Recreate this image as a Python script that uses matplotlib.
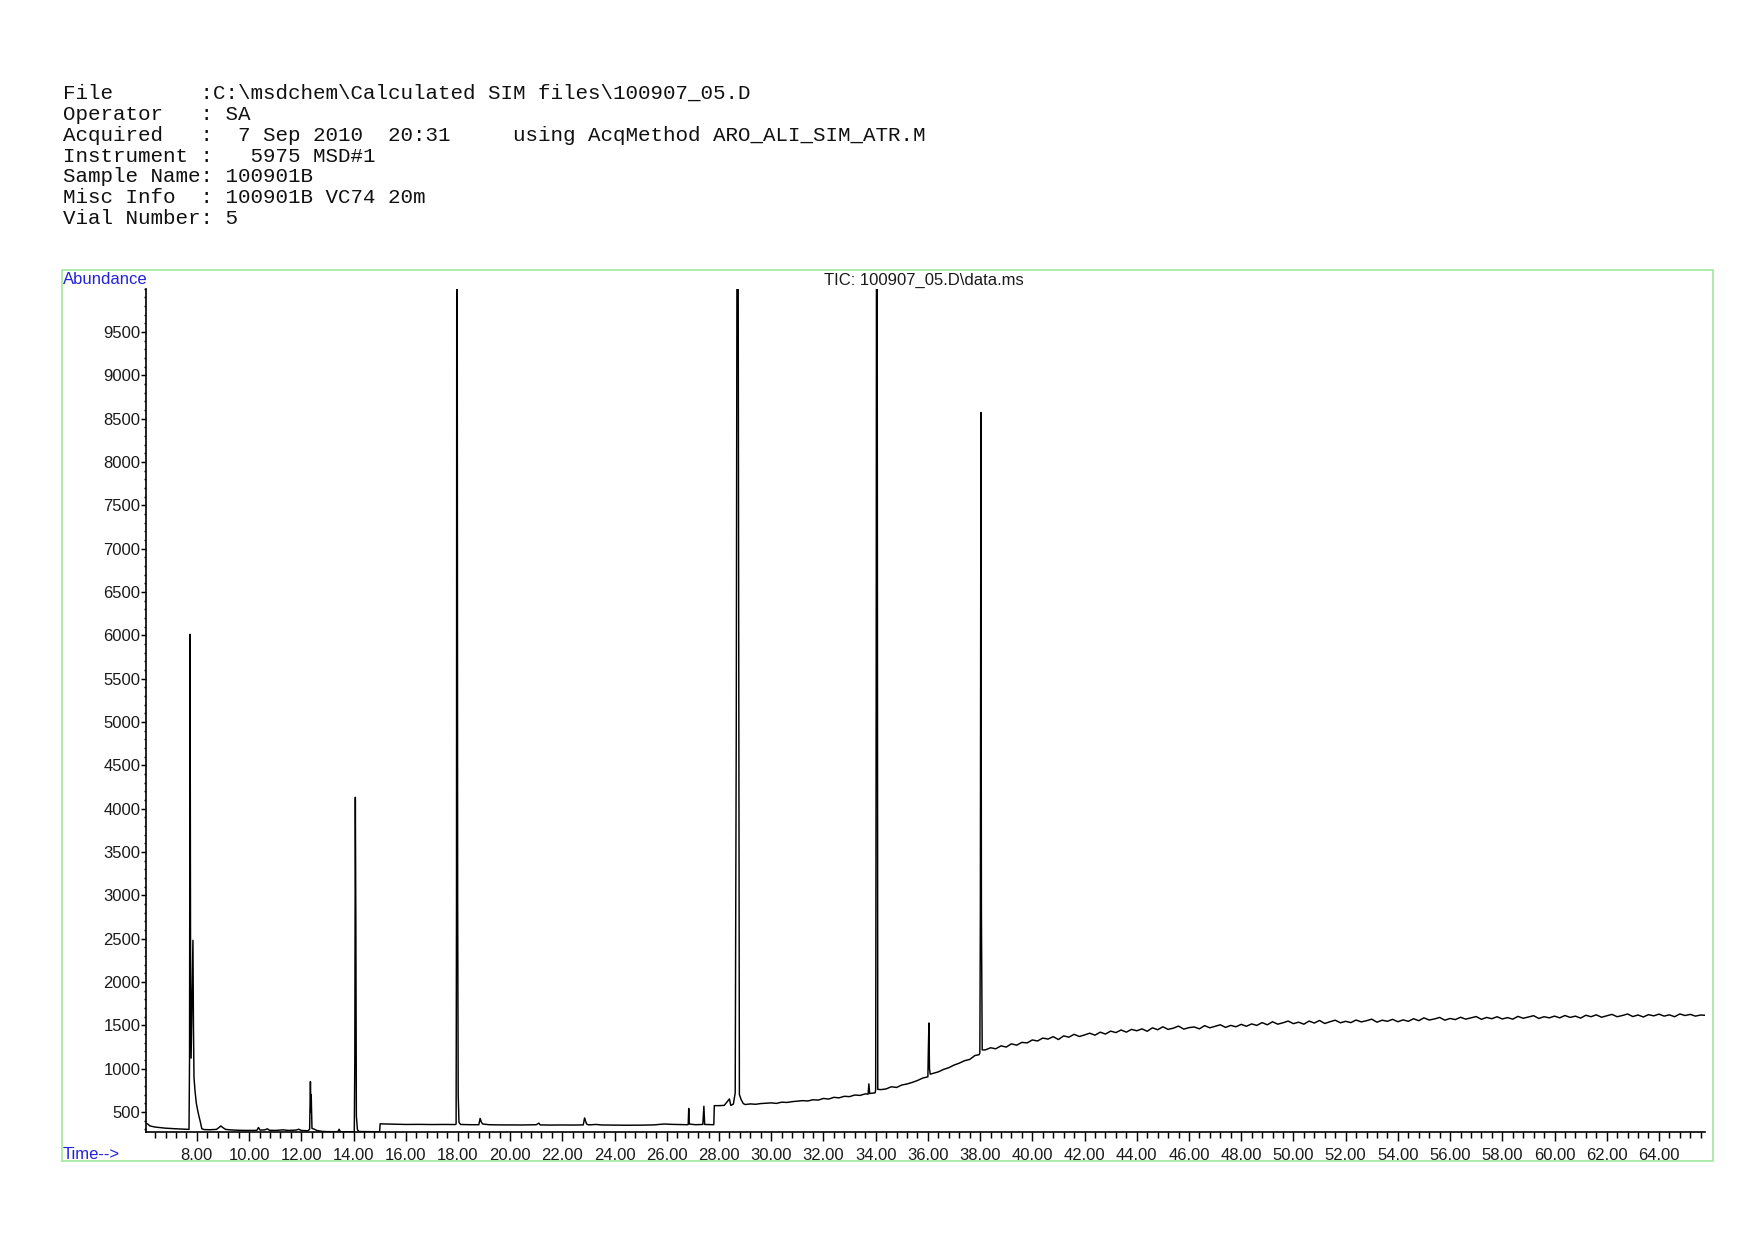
import numpy as np
from matplotlib import pyplot as plt
from matplotlib.patches import Rectangle
from matplotlib.ticker import MultipleLocator, FormatStrFormatter

# header lines of the report
header = [
    "File       :C:\\msdchem\\Calculated SIM files\\100907_05.D",
    "Operator   : SA",
    "Acquired   :  7 Sep 2010  20:31     using AcqMethod ARO_ALI_SIM_ATR.M",
    "Instrument :   5975 MSD#1",
    "Sample Name: 100901B",
    "Misc Info  : 100901B VC74 20m",
    "Vial Number: 5",
]

# quiet first part of the TIC (time in min, abundance)
early_t = [6.07, 6.12, 6.2, 6.4, 6.6, 6.8, 7.0, 7.2, 7.4, 7.6, 7.70,
           7.72, 7.74, 7.76, 7.78, 7.82, 7.85, 7.87, 7.89,
           7.93, 7.98, 8.03, 8.08, 8.13, 8.19, 8.28, 8.5, 8.75, 8.85, 8.92, 9.0, 9.1,
           9.3, 9.6, 9.9, 10.3, 10.36, 10.42, 10.6, 10.7, 10.78, 11.0, 11.3, 11.5,
           11.8, 11.9, 12.0, 12.25,
           12.32, 12.35, 12.37, 12.38, 12.41, 12.5, 12.6, 12.8, 13.0, 13.4, 13.45,
           13.5, 13.9, 14.03,
           14.05, 14.07, 14.09, 14.11, 14.15, 14.2, 14.5, 14.9, 15.0, 15.02, 15.5,
           16.0, 16.5, 17.0, 17.5, 17.9,
           17.93, 17.945, 17.96, 17.975, 17.99, 18.01, 18.04, 18.1, 18.5, 18.8,
           18.85, 18.9, 18.95, 19.2, 19.6, 20.0, 20.5, 21.0, 21.1, 21.15, 21.5,
           22.0, 22.5, 22.8, 22.85, 22.88, 22.93, 23.0, 23.3, 23.5, 24.0, 24.5,
           25.0, 25.5, 25.9, 26.2, 26.5, 26.8,
           26.82, 26.84, 26.86, 27.1, 27.38, 27.42, 27.45, 27.7, 27.8, 27.82,
           28.0, 28.2, 28.4, 28.45, 28.55, 28.62, 28.66, 28.71, 28.74, 28.78,
           28.85, 28.93]
early_y = [365, 360, 338, 325, 318, 312, 308, 305, 302, 300, 298,
           1100, 6010, 2000, 1120, 1900, 2480, 1500, 900,
           740, 600, 520, 450, 390, 305, 296, 294, 298, 320, 338, 318, 298,
           292, 288, 286, 287, 320, 290, 292, 305, 288, 286, 293, 286,
           290, 300, 286, 282,
           300, 850, 500, 700, 310, 300, 285, 275, 272, 272, 300,
           271, 270, 272,
           1085, 4130, 2700, 450, 296, 274, 272, 271, 271, 362, 358,
           355, 356, 354, 355, 354,
           360, 2900, 15000, 9500, 2900, 700, 380, 355, 352, 352,
           425, 380, 360, 352, 350, 350, 349, 352, 370, 350, 348,
           349, 348, 350, 430, 400, 360, 350, 355, 349, 347, 346,
           347, 350, 360, 356, 354, 352,
           360, 540, 360, 352, 355, 565, 355, 352, 352, 572,
           572, 575, 650, 575, 590, 720, 4900, 15000, 9000, 700,
           640, 596]

# rising baseline 29.0 - 37.8 min, read every 0.2 min
mid_y = [585, 592, 588, 596, 600, 604, 598, 612, 609, 618, 624, 630, 626, 640,
         636, 655, 648, 668, 662, 680, 676, 695, 690, 708, 715, 735, 757, 765,
         790, 782, 810, 822, 840, 862, 890, 915, 945, 962, 990, 1010, 1040,
         1062, 1090, 1105, 1150]

# noisy plateau 38.2 - 65.6 min, read every 0.2 min
tail_y = [1215, 1240, 1228, 1262, 1248, 1285, 1270, 1302, 1296, 1330,
          1318, 1352, 1340, 1368, 1335, 1377, 1362, 1395, 1370, 1388,
          1408, 1385, 1420, 1398, 1432, 1415, 1445, 1420, 1452, 1436,
          1458, 1430, 1470, 1448, 1482, 1452, 1466, 1490, 1455, 1472,
          1480, 1458, 1495, 1470, 1488, 1505, 1475, 1498, 1482, 1510,
          1488, 1515, 1498, 1530, 1505, 1540, 1512, 1528, 1548, 1518,
          1535, 1512, 1548, 1525, 1555, 1520, 1540, 1558, 1528, 1545,
          1530, 1560, 1538, 1552, 1570, 1535, 1558, 1545, 1568, 1540,
          1562, 1545, 1575, 1552, 1585, 1560, 1572, 1590, 1558, 1578,
          1565, 1592, 1570, 1585, 1600, 1568, 1590, 1575, 1598, 1572,
          1588, 1570, 1602, 1580, 1595, 1610, 1578, 1598, 1585, 1605,
          1585, 1612, 1590, 1605, 1582, 1615, 1598, 1620, 1592, 1608,
          1625, 1598, 1612, 1630, 1600, 1618, 1595, 1622, 1608, 1628,
          1605, 1620, 1598, 1630, 1612, 1625, 1605, 1618]
end_t = [65.74]
end_y = [1615]

# peaks sitting on the rising baseline
peaks_t = [[33.71, 33.74, 33.77],
           [33.98, 34.00, 34.02, 34.04, 34.06, 34.08],
           [36.00, 36.02, 36.04, 36.06, 36.09],
           [37.96, 37.99, 38.01, 38.03, 38.05, 38.08]]
peaks_y = [[705, 823, 712],
           [720, 760, 5620, 15000, 9500, 760],
           [905, 1256, 1526, 1000, 935],
           [1160, 1180, 2800, 8570, 2800, 1215]]

x_major = np.arange(8, 65, 2)
y_major = np.arange(500, 10000, 500)

# assemble the trace
mid_t = np.linspace(29.0, 37.8, len(mid_y))
tail_t = np.linspace(38.2, 65.6, len(tail_y))
centers = [p[len(p) // 2] for p in peaks_t]
keep = np.array([min(abs(t - c) for c in centers) > 0.07 for t in mid_t])
t_all = np.concatenate([mid_t[keep]] + [np.array(p) for p in peaks_t])
y_all = np.concatenate([np.array(mid_y)[keep]] + [np.array(p) for p in peaks_y])
order = np.argsort(t_all, kind='stable')
t = np.concatenate([early_t, t_all[order], tail_t, end_t])
y = np.concatenate([early_y, y_all[order], tail_y, end_y])

fig = plt.figure(figsize=(1754 / 150, 1240 / 150), dpi=150)
ax = fig.add_axes([0.0835, 0.0871, 0.972 - 0.0835, 0.6802])
ax.plot(t, y, color='black', lw=0.7)
ax.set_xlim(6.07, 65.76)
ax.set_ylim(268, 10000)

for s in ['top', 'right']:
    ax.spines[s].set_visible(False)
for s in ['left', 'bottom']:
    ax.spines[s].set_linewidth(0.8)

ax.set_xticks(x_major)
ax.xaxis.set_major_formatter(FormatStrFormatter('%.2f'))
ax.xaxis.set_minor_locator(MultipleLocator(0.4))
ax.set_yticks(y_major)
ax.yaxis.set_major_formatter(FormatStrFormatter('%d'))
ax.yaxis.set_minor_locator(MultipleLocator(100))

tick_font = dict(family='Liberation Sans', size=8)
for lab in ax.get_xticklabels() + ax.get_yticklabels():
    lab.set_fontfamily('Liberation Sans')
    lab.set_fontsize(8)
    lab.set_color('#1a1a1a')
ax.tick_params(axis='x', which='major', direction='out', length=4.3, width=0.7, pad=3.3)
ax.tick_params(axis='x', which='minor', direction='out', length=2.9, width=0.7)
ax.tick_params(axis='y', which='major', direction='out', length=2.4, width=0.7, pad=0.5)
ax.tick_params(axis='y', which='minor', direction='out', length=1.2, width=0.7)

# header block
header_y = [0.9245, 0.9073, 0.8911, 0.8739, 0.8577, 0.8405, 0.8234]
for line, yy in zip(header, header_y):
    fig.text(0.0357, yy, line, family='Liberation Mono', size=10,
             color='#111111', va='center', ha='left')

# green frame round the chart
fig.patches.append(Rectangle((0.0351, 0.0637), 0.9413, 0.7189, transform=fig.transFigure,
                             fill=False, edgecolor='#a0e6a0', lw=0.8))

fig.text(0.0361, 0.7750, 'Abundance', color='#2222dd', va='center', ha='left', **tick_font)
fig.text(0.5268, 0.7742, 'TIC: 100907_05.D\\data.ms', color='#1a1a1a',
         va='center', ha='center', **tick_font)
fig.text(0.0357, 0.0690, 'Time-->', color='#2222dd', va='center', ha='left', **tick_font)

fig.savefig('out.png', dpi=150)
